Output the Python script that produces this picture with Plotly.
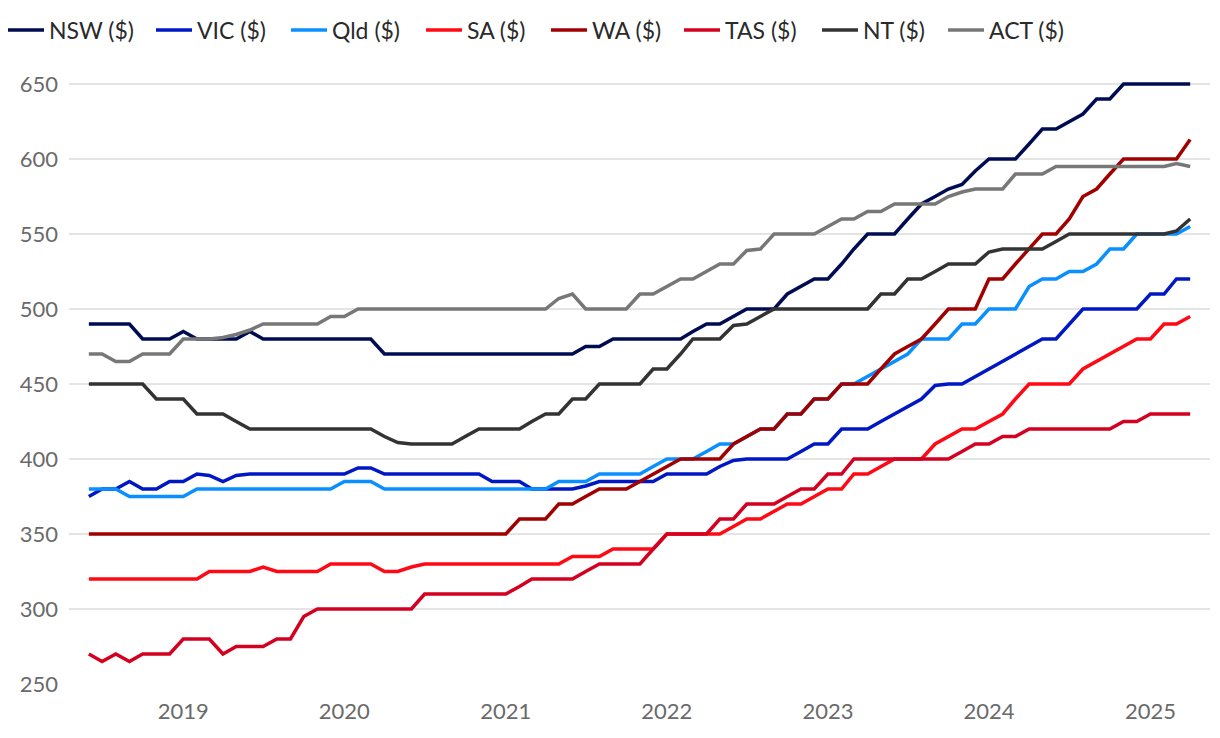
import pandas as pd
import plotly.graph_objects as go

months = pd.date_range("2018-06-01", periods=83, freq="MS")

def expand(runs):
    out = []
    for v, n in runs:
        out += [v] * n
    return out

nsw = expand([(490,4),(480,3),(485,1),(480,4),(485,1),(480,9),(470,15),(475,2),(480,6),(485,1),
              (490,2),(495,1),(500,3),(510,1),(515,1),(520,2),(530,1),(540,1),(550,3),(560,1),
              (570,1),(575,1),(580,1),(583,1),(592,1),(600,3),(610,1),(620,2),(625,1),(630,1),
              (640,2),(650,6)])
vic = expand([(375,1),(380,2),(385,1),(380,2),(385,2),(390,1),(389,1),(385,1),(389,1),(390,8),
              (394,2),(390,8),(385,3),(380,4),(382,1),(385,5),(390,4),(395,1),(399,1),(400,4),
              (405,1),(410,2),(420,3),(425,1),(430,1),(435,1),(440,1),(449,1),(450,2),(455,1),
              (460,1),(465,1),(470,1),(475,1),(480,2),(490,1),(500,5),(510,2),(520,2)])
qld = expand([(380,3),(375,5),(380,11),(385,3),(380,13),(385,3),(390,4),(395,1),(400,3),(405,1),
              (410,2),(415,1),(420,2),(430,2),(440,2),(450,2),(455,1),(460,1),(465,1),(470,1),
              (480,3),(490,2),(500,3),(515,1),(520,2),(525,2),(530,1),(540,2),(550,4),(555,1)])
sa = expand([(320,9),(325,4),(328,1),(325,4),(330,4),(325,2),(328,1),(330,11),(335,3),(340,4),
             (350,5),(355,1),(360,2),(365,1),(370,2),(375,1),(380,2),(390,2),(395,1),(400,3),
             (410,1),(415,1),(420,2),(425,1),(430,1),(440,1),(450,4),(460,1),(465,1),(470,1),
             (475,1),(480,2),(490,2),(495,1)])
wa = expand([(350,32),(360,3),(370,2),(375,1),(380,3),(385,1),(390,1),(395,1),(400,4),(410,1),
             (415,1),(420,2),(430,2),(440,2),(450,3),(460,1),(470,1),(475,1),(480,1),(490,1),
             (500,3),(520,2),(530,1),(540,1),(550,2),(560,1),(575,1),(580,1),(590,1),(600,5),
             (613,1)])
tas = expand([(270,1),(265,1),(270,1),(265,1),(270,3),(280,3),(270,1),(275,3),(280,2),(295,1),
              (300,8),(310,7),(315,1),(320,4),(325,1),(330,4),(340,1),(350,4),(360,2),(370,3),
              (375,1),(380,2),(390,2),(400,8),(405,1),(410,2),(415,2),(420,7),(425,2),(430,4)])
nt = expand([(450,5),(440,3),(430,3),(425,1),(420,10),(415,1),(411,1),(410,4),(415,1),(420,4),
             (425,1),(430,2),(440,2),(450,4),(460,2),(470,1),(480,3),(489,1),(490,1),(495,1),
             (500,8),(510,2),(520,2),(525,1),(530,3),(538,1),(540,4),(545,1),(550,8),(552,1),
             (560,1)])
act = expand([(470,2),(465,2),(470,3),(480,3),(481,1),(483,1),(486,1),(490,5),(495,2),(500,15),
              (507,1),(510,1),(500,4),(510,2),(515,1),(520,2),(525,1),(530,2),(539,1),(540,1),
              (550,4),(555,1),(560,2),(565,2),(570,4),(575,1),(578,1),(580,3),(590,3),(595,9),
              (597,1),(595,1)])

series_names = ["NSW ($)", "VIC ($)", "Qld ($)", "SA ($)", "WA ($)", "TAS ($)", "NT ($)", "ACT ($)"]
series_values = [nsw, vic, qld, sa, wa, tas, nt, act]
colors = ["#000c52", "#0018c4", "#0a8fff", "#ff0a14", "#a00000", "#d40020", "#333333", "#777777"]

year_ticks = pd.to_datetime(["2019-01-01", "2020-01-01", "2021-01-01", "2022-01-01",
                             "2023-01-01", "2024-01-01", "2025-01-01"])
year_labels = ["2019", "2020", "2021", "2022", "2023", "2024", "2025"]
y_ticks = [250, 300, 350, 400, 450, 500, 550, 600, 650]

# legend entry start positions (px from left of figure)
legend_px = [4, 152, 287, 422, 547, 680, 818, 944]

FIG_W, FIG_H = 1212, 730
ML, MR, MT, MB = 61, 10, 52, 54
PLOT_W = FIG_W - ML - MR
PLOT_H = FIG_H - MT - MB
FONT = "Lato, Open Sans, sans-serif"

fig = go.Figure()
layout_legends = {}
for k, (name, vals, col, px) in enumerate(zip(series_names, series_values, colors, legend_px)):
    key = "legend" if k == 0 else f"legend{k+1}"
    fig.add_trace(go.Scatter(x=months, y=vals, name=name, mode="lines",
                             line=dict(color=col, width=3.5), legend=key))
    layout_legends[key] = dict(
        orientation="h", x=(px - 9 - ML) / PLOT_W, xanchor="left",
        y=1 + (MT - 22) / PLOT_H, yanchor="middle",
        font=dict(family=FONT, size=23, color="#2a2a2a"),
        itemwidth=36, bgcolor="rgba(0,0,0,0)")

# page body has an 8px margin, so the figure is 8px smaller than the window
fig.update_layout(
    width=FIG_W, height=FIG_H,
    margin=dict(l=ML, r=MR, t=MT, b=MB, autoexpand=False),
    paper_bgcolor="white", plot_bgcolor="white",
    font=dict(family=FONT, size=22, color="#333333"),
    showlegend=True,
    xaxis=dict(type="date", range=["2018-04-17", "2025-05-16"],
               tickvals=year_ticks, ticktext=year_labels,
               showgrid=False, zeroline=False, showline=False,
               tickfont=dict(family=FONT, size=22, color="#6a6a6a"), ticks="",
               ticklabelstandoff=12),
    yaxis=dict(range=[250, 666], tickvals=y_ticks,
               showgrid=True, gridcolor="#e4e4e4", gridwidth=1.5, zeroline=False, showline=False,
               tickfont=dict(family=FONT, size=22, color="#6a6a6a"), ticks="",
               ticklabelstandoff=10),
    **layout_legends,
)
fig.write_html("out.html")
